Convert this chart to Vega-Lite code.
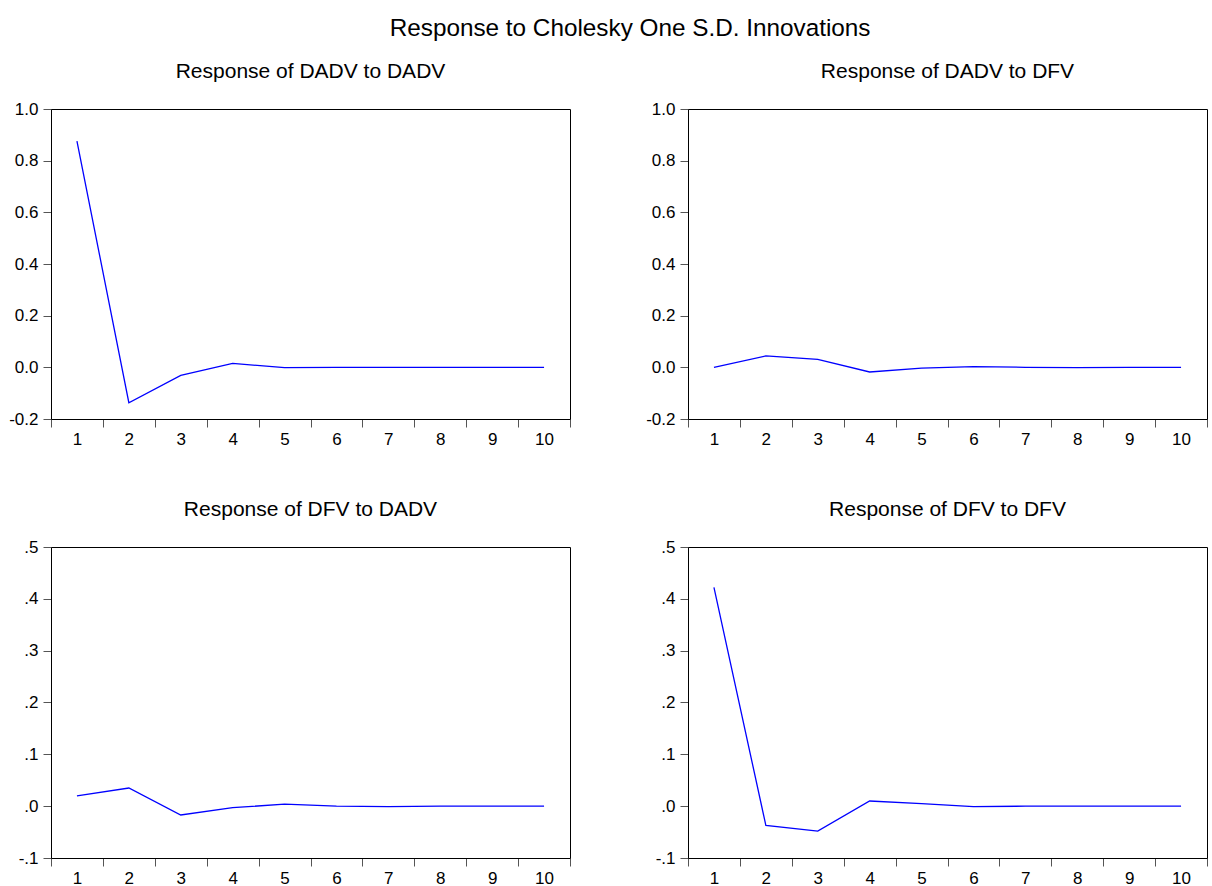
{
  "$schema": "https://vega.github.io/schema/vega-lite/v6.json",
  "padding": {"left": 8, "top": 17, "right": 2, "bottom": 2},
  "background": "white",
  "config": {
    "font": "Liberation Sans",
    "view": {"stroke": "black", "strokeWidth": 1},
    "title": {"fontWeight": "normal", "color": "black"},
    "axis": {"title": null, "grid": false, "labelFontSize": 17, "labelColor": "black", "tickSize": 8, "tickColor": "#555555", "domainColor": "black", "labelFont": "Liberation Sans"}
  },
  "title": {"text": "Response to Cholesky One S.D. Innovations", "fontSize": 24.3, "anchor": "middle", "offset": 19, "dx": 22},
  "columns": 2,
  "spacing": {"row": 50, "column": 74},
  "data": {"values": [
    {"panel": "aa", "step": 1, "value": 0.876},
    {"panel": "aa", "step": 2, "value": -0.137},
    {"panel": "aa", "step": 3, "value": -0.031},
    {"panel": "aa", "step": 4, "value": 0.015},
    {"panel": "aa", "step": 5, "value": -0.001},
    {"panel": "aa", "step": 6, "value": 0.0},
    {"panel": "aa", "step": 7, "value": 0.0},
    {"panel": "aa", "step": 8, "value": 0.0},
    {"panel": "aa", "step": 9, "value": 0.0},
    {"panel": "aa", "step": 10, "value": 0.0},
    {"panel": "af", "step": 1, "value": 0.0},
    {"panel": "af", "step": 2, "value": 0.044},
    {"panel": "af", "step": 3, "value": 0.031},
    {"panel": "af", "step": 4, "value": -0.018},
    {"panel": "af", "step": 5, "value": -0.003},
    {"panel": "af", "step": 6, "value": 0.003},
    {"panel": "af", "step": 7, "value": 0.0},
    {"panel": "af", "step": 8, "value": -0.001},
    {"panel": "af", "step": 9, "value": 0.0},
    {"panel": "af", "step": 10, "value": 0.0},
    {"panel": "fa", "step": 1, "value": 0.020},
    {"panel": "fa", "step": 2, "value": 0.035},
    {"panel": "fa", "step": 3, "value": -0.017},
    {"panel": "fa", "step": 4, "value": -0.003},
    {"panel": "fa", "step": 5, "value": 0.004},
    {"panel": "fa", "step": 6, "value": 0.0},
    {"panel": "fa", "step": 7, "value": -0.001},
    {"panel": "fa", "step": 8, "value": 0.0},
    {"panel": "fa", "step": 9, "value": 0.0},
    {"panel": "fa", "step": 10, "value": 0.0},
    {"panel": "ff", "step": 1, "value": 0.422},
    {"panel": "ff", "step": 2, "value": -0.037},
    {"panel": "ff", "step": 3, "value": -0.048},
    {"panel": "ff", "step": 4, "value": 0.010},
    {"panel": "ff", "step": 5, "value": 0.005},
    {"panel": "ff", "step": 6, "value": -0.001},
    {"panel": "ff", "step": 7, "value": 0.0},
    {"panel": "ff", "step": 8, "value": 0.0},
    {"panel": "ff", "step": 9, "value": 0.0},
    {"panel": "ff", "step": 10, "value": 0.0}
  ]},
  "concat": [
    {
      "title": {"text": "Response of DADV to DADV", "fontSize": 21, "offset": 18},
      "width": 519, "height": 310,
      "transform": [{"filter": "datum.panel === 'aa'"}],
      "encoding": {
        "x": {"field": "step", "type": "ordinal", "bandPosition": 0.5, "scale": {"type": "band", "paddingInner": 0, "paddingOuter": 0}, "axis": {"tickBand": "extent", "labelAngle": 0, "labelPadding": 4}}
      },
      "layer": [
        {"mark": {"type": "rule", "color": "black", "strokeWidth": 1}, "encoding": {"y": {"datum": 0, "type": "quantitative", "scale": {"domain": [-0.2, 1.0], "nice": false, "zero": false}}}},
        {"mark": {"type": "line", "color": "#0000ff", "strokeWidth": 1.3}, "encoding": {"y": {"field": "value", "type": "quantitative", "scale": {"domain": [-0.2, 1.0], "nice": false, "zero": false}, "axis": {"values": [-0.2, 0, 0.2, 0.4, 0.6, 0.8, 1.0], "labelExpr": "replace(format(datum.value, '.1f'), '\u2212', '-')", "labelPadding": 5}}}}
      ]
    },
    {
      "title": {"text": "Response of DADV to DFV", "fontSize": 21, "offset": 18},
      "width": 519, "height": 310,
      "transform": [{"filter": "datum.panel === 'af'"}],
      "encoding": {
        "x": {"field": "step", "type": "ordinal", "bandPosition": 0.5, "scale": {"type": "band", "paddingInner": 0, "paddingOuter": 0}, "axis": {"tickBand": "extent", "labelAngle": 0, "labelPadding": 4}}
      },
      "layer": [
        {"mark": {"type": "rule", "color": "black", "strokeWidth": 1}, "encoding": {"y": {"datum": 0, "type": "quantitative", "scale": {"domain": [-0.2, 1.0], "nice": false, "zero": false}}}},
        {"mark": {"type": "line", "color": "#0000ff", "strokeWidth": 1.3}, "encoding": {"y": {"field": "value", "type": "quantitative", "scale": {"domain": [-0.2, 1.0], "nice": false, "zero": false}, "axis": {"values": [-0.2, 0, 0.2, 0.4, 0.6, 0.8, 1.0], "labelExpr": "replace(format(datum.value, '.1f'), '\u2212', '-')", "labelPadding": 5}}}}
      ]
    },
    {
      "title": {"text": "Response of DFV to DADV", "fontSize": 21, "offset": 18},
      "width": 519, "height": 311,
      "transform": [{"filter": "datum.panel === 'fa'"}],
      "encoding": {
        "x": {"field": "step", "type": "ordinal", "bandPosition": 0.5, "scale": {"type": "band", "paddingInner": 0, "paddingOuter": 0}, "axis": {"tickBand": "extent", "labelAngle": 0, "labelPadding": 4}}
      },
      "layer": [
        {"mark": {"type": "rule", "color": "#666666", "strokeWidth": 1}, "encoding": {"y": {"datum": 0, "type": "quantitative", "scale": {"domain": [-0.1, 0.5], "nice": false, "zero": false}}}},
        {"mark": {"type": "line", "color": "#0000ff", "strokeWidth": 1.3}, "encoding": {"y": {"field": "value", "type": "quantitative", "scale": {"domain": [-0.1, 0.5], "nice": false, "zero": false}, "axis": {"values": [-0.1, 0, 0.1, 0.2, 0.3, 0.4, 0.5], "labelExpr": "replace(replace(format(datum.value, '.1f'), '0.', '.'), '\u2212', '-')", "labelPadding": 5}}}}
      ]
    },
    {
      "title": {"text": "Response of DFV to DFV", "fontSize": 21, "offset": 18},
      "width": 519, "height": 311,
      "transform": [{"filter": "datum.panel === 'ff'"}],
      "encoding": {
        "x": {"field": "step", "type": "ordinal", "bandPosition": 0.5, "scale": {"type": "band", "paddingInner": 0, "paddingOuter": 0}, "axis": {"tickBand": "extent", "labelAngle": 0, "labelPadding": 4}}
      },
      "layer": [
        {"mark": {"type": "rule", "color": "#666666", "strokeWidth": 1}, "encoding": {"y": {"datum": 0, "type": "quantitative", "scale": {"domain": [-0.1, 0.5], "nice": false, "zero": false}}}},
        {"mark": {"type": "line", "color": "#0000ff", "strokeWidth": 1.3}, "encoding": {"y": {"field": "value", "type": "quantitative", "scale": {"domain": [-0.1, 0.5], "nice": false, "zero": false}, "axis": {"values": [-0.1, 0, 0.1, 0.2, 0.3, 0.4, 0.5], "labelExpr": "replace(replace(format(datum.value, '.1f'), '0.', '.'), '\u2212', '-')", "labelPadding": 5}}}}
      ]
    }
  ]
}
